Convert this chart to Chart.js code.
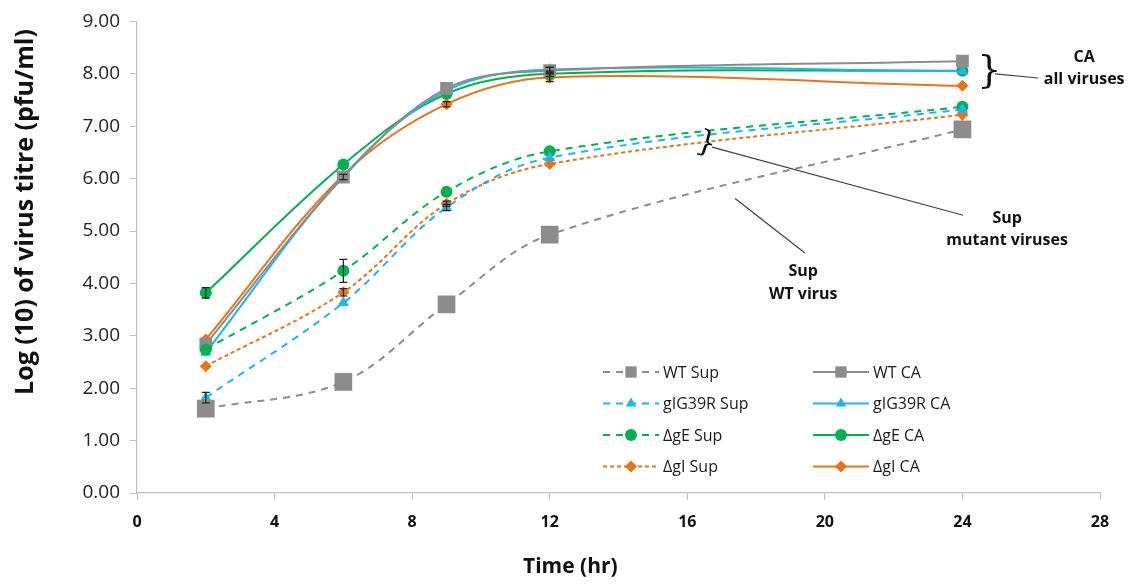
<!DOCTYPE html>
<html>
<head>
<meta charset="utf-8">
<script src="https://cdn.jsdelivr.net/npm/chart.js@4/dist/chart.umd.min.js"></script>
<style>
  html, body { margin: 0; padding: 0; background: #fff; }
  #wrap { width: 1131px; height: 584px; }
</style>
</head>
<body>
<div id="wrap"><canvas id="growth"></canvas></div>
<script>
// time points (hr)
const hours = [2, 6, 9, 12, 24];

// log10 titres
const wtSup = [1.61, 2.12, 3.60, 4.93, 6.94];
const wtCA = [2.84, 6.03, 7.72, 8.06, 8.24];
const g39Sup = [1.82, 3.63, 5.45, 6.40, 7.32];
const g39CA = [2.68, 6.05, 7.68, 8.08, 8.05];
const gESup = [2.74, 4.24, 5.75, 6.52, 7.37];
const gECA = [3.82, 6.27, 7.62, 8.00, 8.06];
const gISup = [2.42, 3.83, 5.52, 6.28, 7.22];
const gICA = [2.93, 6.07, 7.42, 7.93, 7.77];

// error bars (+/-)
const errWtSup = [0, 0, 0, 0, 0];
const errWtCA = [0, 0.05, 0, 0.06, 0];
const errG39Sup = [0.1, 0, 0.06, 0, 0];
const errG39CA = [0, 0, 0, 0.05, 0];
const errGESup = [0, 0.22, 0, 0, 0];
const errGECA = [0.1, 0, 0, 0.05, 0];
const errGISup = [0, 0.07, 0.05, 0, 0];
const errGICA = [0, 0, 0.05, 0.08, 0];

const labels = ['WT Sup', 'WT CA', 'gIG39R Sup', 'gIG39R CA', '\u0394gE Sup', '\u0394gE CA', '\u0394gI Sup', '\u0394gI CA'];

const yTicks = [0, 1, 2, 3, 4, 5, 6, 7, 8, 9];
const xTicks = [0, 4, 8, 12, 16, 20, 24, 28];

const grey = '#8c8c8c';
const blue = '#1fb4ea';
const green = '#00b050';
const orange = '#e8731a';

function pts(ys) {
  return hours.map((h, i) => ({ x: h, y: ys[i] }));
}

function series(label, ys, errs, color, style, radius, dash) {
  return {
    label: label,
    data: pts(ys),
    errs: errs,
    borderColor: color,
    backgroundColor: color,
    pointBackgroundColor: color,
    pointBorderColor: color,
    pointStyle: style,
    pointRadius: radius,
    pointBorderWidth: 0,
    borderWidth: 2,
    borderDash: dash,
    tension: 0.35,
    fill: false
  };
}

const datasets = [
  series(labels[0], wtSup, errWtSup, grey, 'rect', 12.5, [7, 6]),
  series(labels[2], g39Sup, errG39Sup, blue, 'triangle', 6.5, [7, 6]),
  series(labels[4], gESup, errGESup, green, 'circle', 6, [7, 6]),
  series(labels[6], gISup, errGISup, orange, 'rectRot', 6, [4, 3]),
  series(labels[1], wtCA, errWtCA, grey, 'rect', 9, []),
  series(labels[3], g39CA, errG39CA, blue, 'triangle', 6.5, []),
  series(labels[5], gECA, errGECA, green, 'circle', 6, []),
  series(labels[7], gICA, errGICA, orange, 'rectRot', 6, [])
];

// annotation notes placed in data units
const notes = [
  { lines: ['CA', 'all viruses'], x: 27.54, y: [8.31, 7.89] },
  { lines: ['Sup', 'mutant viruses'], x: 25.3, y: [5.24, 4.82] },
  { lines: ['Sup', 'WT virus'], x: 19.37, y: [4.235, 3.78] }
];
const leaders = [
  { from: [24.95, 8.0], to: [26.2, 7.92] },
  { from: [16.72, 6.60], to: [24.02, 5.30] },
  { from: [17.39, 5.62], to: [19.42, 4.58] }
];
const braces = [
  { x: 24.78, y: 8.03, size: 38, rot: 0 },
  { x: 16.55, y: 6.66, size: 30, rot: 0.3 }
];

const errorBars = {
  id: 'errorBars',
  afterDatasetsDraw(chart) {
    const ctx = chart.ctx;
    const xs = chart.scales.x, ys = chart.scales.y;
    ctx.save();
    ctx.strokeStyle = '#222';
    ctx.lineWidth = 1.2;
    chart.data.datasets.forEach(ds => {
      ds.data.forEach((p, i) => {
        const e = ds.errs[i];
        if (!e) return;
        const px = xs.getPixelForValue(p.x);
        const top = ys.getPixelForValue(p.y + e);
        const bot = ys.getPixelForValue(p.y - e);
        ctx.beginPath();
        ctx.moveTo(px, top); ctx.lineTo(px, bot);
        ctx.moveTo(px - 4, top); ctx.lineTo(px + 4, top);
        ctx.moveTo(px - 4, bot); ctx.lineTo(px + 4, bot);
        ctx.stroke();
      });
    });
    ctx.restore();
  }
};

const extras = {
  id: 'extras',
  afterDraw(chart) {
    const ctx = chart.ctx;
    const xs = chart.scales.x, ys = chart.scales.y;
    const area = chart.chartArea;
    ctx.save();

    // leader lines
    ctx.strokeStyle = '#404040';
    ctx.lineWidth = 1.2;
    leaders.forEach(l => {
      ctx.beginPath();
      ctx.moveTo(xs.getPixelForValue(l.from[0]), ys.getPixelForValue(l.from[1]));
      ctx.lineTo(xs.getPixelForValue(l.to[0]), ys.getPixelForValue(l.to[1]));
      ctx.stroke();
    });

    // braces
    ctx.fillStyle = '#111';
    ctx.textAlign = 'center';
    ctx.textBaseline = 'middle';
    braces.forEach(b => {
      ctx.save();
      ctx.translate(xs.getPixelForValue(b.x), ys.getPixelForValue(b.y));
      ctx.rotate(b.rot);
      ctx.font = b.size + 'px "DejaVu Serif"';
      ctx.fillText('}', 0, 0);
      ctx.restore();
    });

    // note text
    ctx.font = 'bold 16px "Open Sans"';
    ctx.fillStyle = '#111';
    notes.forEach(n => {
      n.lines.forEach((t, i) => {
        ctx.fillText(t, xs.getPixelForValue(n.x), ys.getPixelForValue(n.y[i]));
      });
    });

    // axis titles
    ctx.font = 'bold 21px "Open Sans"';
    ctx.fillText('Time (hr)', area.left + area.width * 0.45, 567);
    ctx.save();
    ctx.translate(26, 212);
    ctx.rotate(-Math.PI / 2);
    ctx.font = 'bold 25px "Open Sans"';
    ctx.fillText('Log (10) of virus titre (pfu/ml)', 0, 0);
    ctx.restore();

    // legend, two columns
    const order = [0, 4, 1, 5, 2, 6, 3, 7];
    ctx.font = '16px "Open Sans"';
    ctx.textAlign = 'left';
    order.forEach((di, k) => {
      const ds = chart.data.datasets[di];
      const col = k % 2, row = Math.floor(k / 2);
      const x0 = col === 0 ? 603 : 813;
      const y0 = 372 + row * 31.5;
      ctx.strokeStyle = ds.borderColor;
      ctx.lineWidth = 2;
      ctx.setLineDash(ds.borderDash);
      ctx.beginPath();
      ctx.moveTo(x0, y0); ctx.lineTo(x0 + 56, y0);
      ctx.stroke();
      ctx.setLineDash([]);
      ctx.fillStyle = ds.backgroundColor;
      Chart.helpers.drawPoint(ctx, {
        pointStyle: ds.pointStyle,
        radius: ds.pointStyle === 'rect' ? 8 : 6,
        rotation: 0,
        borderWidth: 0
      }, x0 + 28, y0);
      ctx.fillStyle = '#1a1a1a';
      ctx.fillText(ds.label, x0 + 60, y0 + 1);
    });

    ctx.restore();
  }
};

new Chart(document.getElementById('growth'), {
  type: 'line',
  data: { datasets: datasets },
  plugins: [errorBars, extras],
  options: {
    responsive: true,
    maintainAspectRatio: false,
    animation: false,
    layout: { padding: { top: 11, right: 31, left: 0, bottom: 0 } },
    plugins: {
      legend: { display: false },
      tooltip: { enabled: false }
    },
    scales: {
      x: {
        type: 'linear',
        min: 0,
        max: 28,
        afterFit(scale) { scale.height = 91; },
        afterBuildTicks(scale) { scale.ticks = xTicks.map(v => ({ value: v })); },
        border: { color: '#bfbfbf', width: 1.2 },
        grid: { drawOnChartArea: false, tickLength: 7, color: '#bfbfbf' },
        ticks: {
          padding: 13,
          color: '#111',
          font: { family: 'Open Sans', weight: 'bold', size: 16 },
          maxRotation: 0
        }
      },
      y: {
        min: 0,
        max: 9,
        afterFit(scale) { scale.width = 137; },
        afterBuildTicks(scale) { scale.ticks = yTicks.map(v => ({ value: v })); },
        border: { color: '#bfbfbf', width: 1.2 },
        grid: { drawOnChartArea: false, tickLength: 7, color: '#bfbfbf' },
        ticks: {
          padding: 10,
          color: '#222',
          font: { family: 'Open Sans', size: 19 },
          callback: v => v.toFixed(2)
        }
      }
    }
  }
});
</script>
</body>
</html>
